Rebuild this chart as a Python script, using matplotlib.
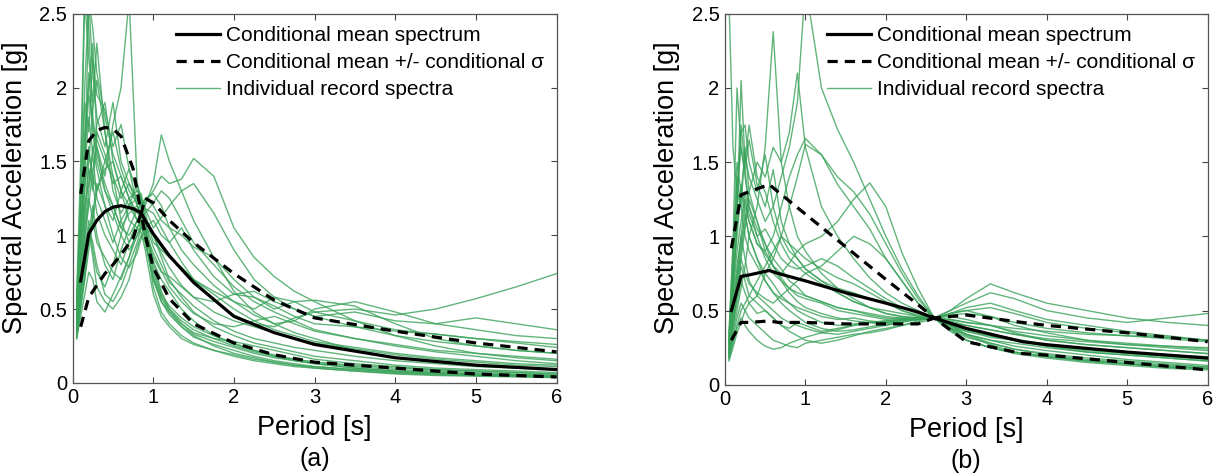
import numpy as np
import matplotlib.pyplot as plt

plt.rcParams['font.family'] = ['Liberation Sans', 'DejaVu Sans']

# ------------------------------------------------------------
# dados
# ------------------------------------------------------------
# periodos dos espectros individuais (a) e (b)
T_rec_a = [0.05, 0.1, 0.15, 0.2, 0.25, 0.3, 0.4, 0.5, 0.6, 0.7, 0.8, 0.85, 0.9, 1.0, 1.1,
           1.2, 1.35, 1.5, 1.75, 2.0, 2.25, 2.5, 2.75, 3.0, 3.5, 4.0, 4.5, 5.0, 5.5, 6.0]
T_rec_b = [0.05, 0.1, 0.15, 0.2, 0.25, 0.3, 0.4, 0.5, 0.6, 0.7, 0.8, 0.9, 1.0, 1.2, 1.4,
           1.6, 1.8, 2.0, 2.2, 2.4, 2.6, 2.8, 3.0, 3.3, 3.6, 4.0, 4.5, 5.0, 5.5, 6.0]

records_a = [
    [0.42, 0.95, 1.60, 2.10, 1.70, 1.50, 1.30, 1.20, 1.05, 1.15, 1.20, 1.15, 1.05, 0.82, 0.70, 0.62, 0.50, 0.42, 0.32, 0.27, 0.22, 0.19, 0.16, 0.14, 0.11, 0.09, 0.08, 0.07, 0.06, 0.05],
    [0.35, 0.70, 1.10, 1.45, 1.30, 1.70, 1.55, 1.35, 1.40, 1.25, 1.15, 1.12, 1.20, 1.35, 1.68, 1.50, 1.30, 1.10, 0.85, 0.62, 0.48, 0.40, 0.34, 0.30, 0.22, 0.17, 0.14, 0.12, 0.10, 0.09],
    [0.55, 1.30, 2.60, 2.20, 1.90, 2.30, 1.70, 1.40, 1.10, 0.95, 1.05, 1.10, 0.95, 0.70, 0.55, 0.48, 0.40, 0.33, 0.28, 0.24, 0.20, 0.17, 0.15, 0.13, 0.10, 0.08, 0.07, 0.06, 0.05, 0.04],
    [0.40, 0.90, 1.20, 1.35, 1.55, 1.25, 1.10, 0.95, 1.10, 1.20, 1.25, 1.18, 1.22, 1.30, 1.40, 1.35, 1.38, 1.52, 1.40, 1.05, 0.85, 0.72, 0.62, 0.55, 0.42, 0.32, 0.25, 0.20, 0.17, 0.15],
    [0.38, 0.60, 0.85, 1.05, 0.95, 0.80, 0.60, 0.55, 0.65, 0.80, 0.95, 1.05, 1.10, 1.00, 0.92, 0.85, 0.78, 0.70, 0.62, 0.55, 0.50, 0.58, 0.55, 0.48, 0.50, 0.46, 0.50, 0.57, 0.65, 0.74],
    [0.32, 0.55, 0.70, 0.90, 1.10, 1.30, 1.45, 1.50, 1.30, 1.20, 1.10, 1.05, 1.00, 0.85, 0.75, 0.72, 0.65, 0.58, 0.55, 0.60, 0.58, 0.52, 0.45, 0.40, 0.38, 0.35, 0.33, 0.30, 0.28, 0.26],
    [0.50, 1.10, 1.40, 2.60, 2.10, 1.80, 1.60, 1.90, 1.50, 1.35, 1.25, 1.20, 1.05, 0.75, 0.58, 0.48, 0.38, 0.32, 0.25, 0.20, 0.17, 0.14, 0.12, 0.10, 0.08, 0.06, 0.05, 0.045, 0.04, 0.035],
    [0.30, 0.45, 0.60, 0.75, 0.70, 0.55, 0.48, 0.60, 0.72, 0.85, 1.00, 1.08, 1.15, 1.22, 1.30, 1.25, 1.10, 0.95, 0.80, 0.65, 0.55, 0.48, 0.42, 0.36, 0.30, 0.25, 0.21, 0.18, 0.15, 0.13],
    [0.45, 1.20, 1.90, 1.70, 2.20, 1.95, 1.85, 1.60, 1.75, 1.45, 1.30, 1.25, 1.10, 0.82, 0.62, 0.50, 0.40, 0.34, 0.30, 0.28, 0.25, 0.22, 0.19, 0.16, 0.13, 0.11, 0.09, 0.08, 0.07, 0.06],
    [0.36, 0.75, 1.00, 1.20, 1.45, 1.60, 1.30, 1.15, 1.00, 0.90, 1.00, 1.05, 1.05, 1.10, 1.00, 0.95, 1.05, 0.90, 0.72, 0.60, 0.62, 0.55, 0.50, 0.45, 0.48, 0.42, 0.40, 0.44, 0.40, 0.36],
    [0.60, 1.50, 2.70, 2.40, 1.80, 1.60, 1.40, 1.75, 2.00, 2.60, 1.35, 1.22, 1.05, 0.78, 0.60, 0.52, 0.44, 0.38, 0.32, 0.26, 0.22, 0.18, 0.15, 0.13, 0.10, 0.08, 0.07, 0.06, 0.055, 0.05],
    [0.40, 0.85, 1.30, 1.60, 1.35, 1.15, 1.00, 0.90, 0.80, 0.95, 1.10, 1.15, 1.25, 1.28, 1.20, 1.05, 0.90, 0.80, 0.66, 0.55, 0.46, 0.40, 0.42, 0.50, 0.55, 0.48, 0.40, 0.36, 0.32, 0.30],
    [0.33, 0.65, 0.95, 1.25, 1.10, 0.95, 0.85, 0.75, 0.70, 0.85, 1.05, 1.10, 1.00, 0.65, 0.48, 0.40, 0.32, 0.27, 0.22, 0.18, 0.15, 0.13, 0.11, 0.10, 0.08, 0.065, 0.055, 0.05, 0.045, 0.04],
    [0.48, 1.00, 1.70, 2.00, 2.30, 1.65, 1.50, 1.40, 1.25, 1.35, 1.20, 1.15, 1.08, 0.92, 0.80, 0.68, 0.60, 0.52, 0.42, 0.35, 0.30, 0.27, 0.24, 0.22, 0.18, 0.15, 0.13, 0.11, 0.10, 0.09],
    [0.31, 0.50, 0.70, 1.00, 1.20, 1.00, 0.80, 0.70, 0.90, 1.05, 1.18, 1.20, 1.25, 1.20, 1.10, 1.05, 1.00, 0.92, 0.85, 0.70, 0.58, 0.50, 0.55, 0.56, 0.52, 0.40, 0.30, 0.25, 0.22, 0.20],
    [0.44, 0.95, 1.45, 1.80, 1.55, 1.75, 1.90, 1.50, 1.30, 1.10, 1.05, 1.02, 0.90, 0.60, 0.45, 0.38, 0.30, 0.26, 0.22, 0.19, 0.16, 0.14, 0.12, 0.11, 0.09, 0.07, 0.06, 0.05, 0.045, 0.04],
    [0.37, 0.80, 1.15, 1.50, 1.85, 2.05, 1.70, 1.30, 1.15, 1.25, 1.30, 1.28, 1.15, 0.95, 0.90, 0.85, 0.78, 0.70, 0.60, 0.50, 0.42, 0.36, 0.32, 0.28, 0.24, 0.20, 0.17, 0.15, 0.13, 0.12],
    [0.34, 0.62, 0.90, 1.10, 0.90, 0.75, 0.65, 0.80, 1.00, 1.20, 1.35, 1.25, 1.18, 1.05, 1.12, 1.20, 1.30, 1.35, 1.15, 0.90, 0.70, 0.58, 0.50, 0.45, 0.38, 0.32, 0.28, 0.25, 0.22, 0.20],
    [0.52, 1.25, 2.00, 2.60, 2.40, 2.10, 1.80, 1.55, 1.40, 1.25, 1.10, 1.08, 0.98, 0.70, 0.55, 0.46, 0.38, 0.31, 0.26, 0.22, 0.18, 0.15, 0.13, 0.11, 0.09, 0.075, 0.065, 0.055, 0.05, 0.045],
    [0.39, 0.72, 1.05, 1.30, 1.60, 1.45, 1.20, 1.10, 1.30, 1.45, 1.20, 1.12, 1.02, 0.88, 0.76, 0.65, 0.55, 0.47, 0.40, 0.38, 0.42, 0.45, 0.40, 0.35, 0.30, 0.26, 0.22, 0.20, 0.18, 0.16],
    [0.46, 1.05, 1.55, 1.95, 1.75, 1.55, 1.35, 1.20, 1.05, 1.00, 1.10, 1.16, 1.12, 1.00, 0.88, 0.78, 0.66, 0.58, 0.48, 0.42, 0.38, 0.34, 0.30, 0.27, 0.23, 0.19, 0.16, 0.14, 0.12, 0.11],
    [0.35, 0.58, 0.80, 0.95, 1.15, 1.35, 1.20, 1.00, 0.85, 0.78, 0.88, 0.98, 1.05, 1.00, 0.85, 0.70, 0.58, 0.48, 0.38, 0.32, 0.27, 0.24, 0.21, 0.18, 0.15, 0.12, 0.10, 0.09, 0.08, 0.07],
    [0.41, 0.88, 1.35, 1.55, 1.40, 1.30, 1.50, 1.70, 1.45, 1.30, 1.22, 1.20, 1.18, 1.15, 1.05, 0.95, 0.82, 0.70, 0.56, 0.46, 0.40, 0.38, 0.44, 0.48, 0.42, 0.36, 0.33, 0.30, 0.27, 0.24],
    [0.30, 0.52, 0.75, 1.05, 0.85, 0.65, 0.55, 0.50, 0.58, 0.70, 0.92, 1.00, 0.95, 0.72, 0.58, 0.50, 0.42, 0.36, 0.30, 0.25, 0.21, 0.18, 0.16, 0.14, 0.12, 0.10, 0.09, 0.08, 0.07, 0.06],
]

records_b = [
    [0.30, 0.85, 1.30, 1.60, 1.45, 1.20, 1.00, 0.85, 0.75, 0.70, 0.65, 0.60, 0.58, 0.55, 0.50, 0.48, 0.46, 0.44, 0.45, 0.44, 0.45, 0.40, 0.36, 0.32, 0.30, 0.27, 0.24, 0.22, 0.20, 0.18],
    [0.22, 0.40, 0.55, 0.70, 0.62, 0.55, 0.48, 0.50, 0.45, 0.40, 0.38, 0.42, 0.40, 0.36, 0.38, 0.40, 0.42, 0.40, 0.43, 0.44, 0.45, 0.48, 0.50, 0.52, 0.48, 0.42, 0.38, 0.35, 0.32, 0.30],
    [2.60, 1.60, 1.30, 1.20, 1.00, 0.90, 0.80, 0.70, 0.62, 0.58, 0.55, 0.52, 0.50, 0.46, 0.44, 0.45, 0.43, 0.42, 0.44, 0.45, 0.45, 0.42, 0.38, 0.33, 0.30, 0.26, 0.22, 0.20, 0.18, 0.16],
    [0.25, 0.60, 1.10, 2.05, 1.50, 1.75, 1.40, 1.30, 1.10, 0.95, 0.85, 0.80, 0.75, 0.68, 0.62, 0.56, 0.52, 0.50, 0.48, 0.46, 0.45, 0.40, 0.34, 0.30, 0.26, 0.23, 0.20, 0.17, 0.15, 0.13],
    [0.18, 0.35, 0.50, 0.65, 0.80, 1.00, 1.20, 1.60, 2.38, 1.50, 1.20, 1.00, 0.90, 0.75, 0.65, 0.58, 0.52, 0.48, 0.46, 0.45, 0.45, 0.46, 0.44, 0.40, 0.35, 0.30, 0.27, 0.25, 0.23, 0.21],
    [0.20, 0.45, 0.70, 0.90, 1.10, 1.30, 1.50, 1.40, 1.60, 1.50, 1.70, 2.10, 1.60, 1.20, 1.00, 0.85, 0.72, 0.62, 0.55, 0.50, 0.45, 0.38, 0.30, 0.25, 0.22, 0.19, 0.16, 0.14, 0.12, 0.11],
    [0.28, 0.70, 1.00, 1.30, 1.55, 1.40, 1.25, 1.10, 1.20, 1.40, 1.60, 1.90, 2.70, 2.00, 1.72, 1.50, 1.25, 1.00, 0.78, 0.60, 0.45, 0.36, 0.30, 0.25, 0.21, 0.18, 0.15, 0.13, 0.11, 0.10],
    [0.16, 0.25, 0.35, 0.42, 0.50, 0.55, 0.60, 0.75, 0.85, 1.00, 1.20, 1.40, 1.62, 1.55, 1.35, 1.20, 1.05, 0.85, 0.70, 0.55, 0.45, 0.38, 0.32, 0.28, 0.24, 0.21, 0.18, 0.16, 0.14, 0.12],
    [0.24, 0.55, 0.80, 1.00, 0.85, 0.70, 0.60, 0.55, 0.50, 0.45, 0.42, 0.40, 0.38, 0.35, 0.34, 0.36, 0.38, 0.40, 0.42, 0.44, 0.45, 0.50, 0.55, 0.62, 0.58, 0.50, 0.45, 0.42, 0.45, 0.48],
    [0.26, 0.65, 1.20, 1.70, 1.75, 1.50, 1.30, 1.55, 1.20, 1.00, 0.90, 0.85, 0.78, 0.70, 0.65, 0.62, 0.58, 0.55, 0.50, 0.47, 0.45, 0.42, 0.38, 0.34, 0.30, 0.26, 0.23, 0.21, 0.19, 0.17],
    [0.19, 0.32, 0.45, 0.55, 0.50, 0.45, 0.40, 0.35, 0.30, 0.28, 0.26, 0.25, 0.28, 0.30, 0.32, 0.34, 0.35, 0.37, 0.40, 0.42, 0.44, 0.48, 0.52, 0.55, 0.50, 0.44, 0.40, 0.36, 0.33, 0.30],
    [0.35, 0.95, 2.00, 1.60, 1.40, 1.20, 1.05, 0.95, 0.85, 0.78, 0.70, 0.66, 0.60, 0.56, 0.52, 0.50, 0.48, 0.46, 0.45, 0.45, 0.45, 0.41, 0.37, 0.34, 0.31, 0.27, 0.24, 0.22, 0.20, 0.18],
    [0.21, 0.50, 0.75, 1.00, 1.25, 1.10, 0.95, 0.90, 1.00, 1.20, 1.40, 1.55, 1.66, 1.55, 1.40, 1.30, 1.15, 0.95, 0.75, 0.58, 0.45, 0.37, 0.30, 0.25, 0.22, 0.19, 0.16, 0.14, 0.12, 0.11],
    [0.17, 0.30, 0.40, 0.50, 0.55, 0.60, 0.70, 0.80, 0.90, 1.00, 0.95, 0.90, 0.95, 1.00, 1.10, 1.25, 1.36, 1.20, 0.89, 0.65, 0.45, 0.38, 0.34, 0.30, 0.28, 0.25, 0.22, 0.20, 0.18, 0.16],
    [0.23, 0.45, 0.60, 0.80, 0.70, 0.60, 0.55, 0.50, 0.45, 0.40, 0.36, 0.33, 0.30, 0.28, 0.30, 0.33, 0.36, 0.38, 0.40, 0.43, 0.45, 0.50, 0.58, 0.68, 0.62, 0.55, 0.50, 0.45, 0.42, 0.40],
    [0.27, 0.75, 1.40, 1.20, 1.60, 1.30, 1.10, 0.90, 0.80, 0.70, 0.62, 0.56, 0.52, 0.48, 0.45, 0.43, 0.42, 0.42, 0.43, 0.44, 0.45, 0.44, 0.42, 0.40, 0.38, 0.36, 0.34, 0.33, 0.32, 0.30],
    [0.20, 0.38, 0.60, 0.85, 1.05, 1.25, 1.10, 0.95, 0.80, 0.72, 0.65, 0.62, 0.60, 0.56, 0.52, 0.50, 0.47, 0.45, 0.44, 0.44, 0.45, 0.47, 0.48, 0.46, 0.42, 0.38, 0.35, 0.33, 0.31, 0.29],
    [0.30, 0.80, 1.30, 1.75, 1.45, 1.65, 1.35, 1.20, 1.45, 1.10, 0.95, 0.85, 0.78, 0.70, 0.62, 0.56, 0.52, 0.48, 0.46, 0.45, 0.45, 0.40, 0.34, 0.28, 0.24, 0.20, 0.17, 0.15, 0.13, 0.12],
    [0.18, 0.28, 0.38, 0.45, 0.40, 0.36, 0.30, 0.26, 0.24, 0.25, 0.28, 0.30, 0.32, 0.35, 0.37, 0.40, 0.42, 0.43, 0.44, 0.45, 0.45, 0.44, 0.42, 0.40, 0.36, 0.33, 0.30, 0.28, 0.26, 0.24],
    [0.24, 0.60, 0.90, 1.10, 1.30, 1.15, 1.00, 1.05, 0.95, 0.85, 0.80, 0.78, 0.80, 0.85, 0.80, 0.72, 0.65, 0.58, 0.52, 0.48, 0.45, 0.42, 0.40, 0.37, 0.34, 0.30, 0.27, 0.25, 0.23, 0.21],
    [0.19, 0.42, 0.65, 0.85, 0.75, 0.68, 0.62, 0.58, 0.55, 0.60, 0.65, 0.70, 0.75, 0.80, 0.90, 1.00, 0.95, 0.85, 0.70, 0.55, 0.45, 0.40, 0.36, 0.33, 0.30, 0.27, 0.24, 0.22, 0.20, 0.19],
    [0.33, 0.90, 1.50, 1.30, 1.15, 1.00, 0.85, 0.75, 0.68, 0.60, 0.55, 0.50, 0.47, 0.42, 0.40, 0.41, 0.42, 0.43, 0.44, 0.45, 0.45, 0.48, 0.50, 0.46, 0.40, 0.35, 0.30, 0.27, 0.25, 0.23],
    [0.21, 0.48, 0.72, 0.95, 1.15, 1.00, 0.85, 0.70, 0.62, 0.55, 0.50, 0.46, 0.42, 0.38, 0.36, 0.37, 0.39, 0.41, 0.43, 0.44, 0.45, 0.43, 0.40, 0.37, 0.34, 0.31, 0.29, 0.27, 0.26, 0.25],
    [0.28, 0.70, 1.05, 1.35, 1.20, 1.10, 0.95, 0.88, 0.80, 0.75, 0.82, 0.90, 0.85, 0.78, 0.72, 0.68, 0.62, 0.56, 0.50, 0.46, 0.45, 0.39, 0.33, 0.27, 0.22, 0.19, 0.16, 0.14, 0.12, 0.11],
]

# espectro medio condicional e +/- sigma
T_cms_a = [0.1, 0.2, 0.3, 0.4, 0.5, 0.6, 0.75, 0.85, 0.9, 1.0, 1.2, 1.5, 2.0, 2.5, 3.0, 4.0, 5.0, 6.0]
mean_a = [0.69, 1.01, 1.10, 1.16, 1.19, 1.20, 1.18, 1.15, 1.10, 1.01, 0.86, 0.68, 0.45, 0.34, 0.26, 0.17, 0.12, 0.09]
upper_a = [1.28, 1.64, 1.71, 1.73, 1.72, 1.67, 1.45, 1.15, 1.25, 1.22, 1.10, 0.95, 0.74, 0.56, 0.44, 0.35, 0.27, 0.21]
lower_a = [0.38, 0.58, 0.66, 0.74, 0.80, 0.87, 0.98, 1.15, 1.00, 0.78, 0.57, 0.40, 0.27, 0.19, 0.14, 0.10, 0.06, 0.04]

T_cms_b = [0.08, 0.2, 0.3, 0.55, 0.66, 1.0, 1.5, 2.0, 2.4, 2.6, 3.0, 3.7, 4.0, 5.0, 6.0]
mean_b = [0.50, 0.73, 0.74, 0.77, 0.75, 0.70, 0.62, 0.55, 0.49, 0.45, 0.38, 0.29, 0.27, 0.22, 0.18]
upper_b = [0.92, 1.28, 1.30, 1.35, 1.30, 1.15, 0.93, 0.71, 0.54, 0.45, 0.47, 0.42, 0.40, 0.35, 0.29]
lower_b = [0.30, 0.42, 0.42, 0.43, 0.42, 0.42, 0.41, 0.41, 0.41, 0.45, 0.29, 0.21, 0.20, 0.15, 0.10]

GREEN = '#3aa35a'

# ------------------------------------------------------------
# plot
# ------------------------------------------------------------
fig = plt.figure(figsize=(12.25, 4.75), dpi=100)
ax_a = fig.add_axes([0.0593, 0.194, 0.395, 0.777])
ax_b = fig.add_axes([0.5918, 0.190, 0.394, 0.781])

panels = [
    (ax_a, T_rec_a, records_a, T_cms_a, mean_a, upper_a, lower_a, '(a)'),
    (ax_b, T_rec_b, records_b, T_cms_b, mean_b, upper_b, lower_b, '(b)'),
]

for ax, T_rec, recs, T_cms, mean, upper, lower, tag in panels:
    for i, r in enumerate(recs):
        ax.plot(T_rec, r, color=GREEN, lw=1.0, alpha=0.8,
                label='Individual record spectra' if i == 0 else None, zorder=2)
    ax.plot(T_cms, mean, color='black', lw=2.3, zorder=4,
            label='Conditional mean spectrum')
    ax.plot(T_cms, upper, color='black', lw=2.3, ls=(0, (3.2, 2.2)), zorder=4,
            label='Conditional mean +/- conditional σ')
    ax.plot(T_cms, lower, color='black', lw=2.3, ls=(0, (3.2, 2.2)), zorder=4)

    ax.set_xlim(0, 6)
    ax.set_ylim(0, 2.5)
    ax.set_xticks(range(7))
    ax.set_yticks([0, 0.5, 1, 1.5, 2, 2.5])
    ax.set_yticklabels(['0', '0.5', '1', '1.5', '2', '2.5'])
    ax.tick_params(direction='in', top=True, right=True, length=4, width=0.8,
                   labelsize=14.5, colors='#444444', labelcolor='black', pad=4)
    for s in ax.spines.values():
        s.set_color('#555555')
        s.set_linewidth(0.9)

    ax.set_xlabel('Period [s]', fontsize=19.5)
    ax.xaxis.set_label_coords(0.5, -0.088)
    ax.set_ylabel('Spectral Acceleration [g]', fontsize=19.5)
    ax.yaxis.set_label_coords(-0.093, 0.53)

    handles, labels = ax.get_legend_handles_labels()
    order = [labels.index('Conditional mean spectrum'),
             labels.index('Conditional mean +/- conditional σ'),
             labels.index('Individual record spectra')]
    ax.legend([handles[k] for k in order], [labels[k] for k in order],
              loc='upper right', bbox_to_anchor=(1.0, 1.0), frameon=False,
              fontsize=15, handlelength=2.1, handletextpad=0.3,
              labelspacing=0.38, borderaxespad=0.2)

    ax.text(0.5, -0.205, tag, transform=ax.transAxes, ha='center', va='center',
            fontsize=18)

fig.savefig('out.png', dpi=100)
